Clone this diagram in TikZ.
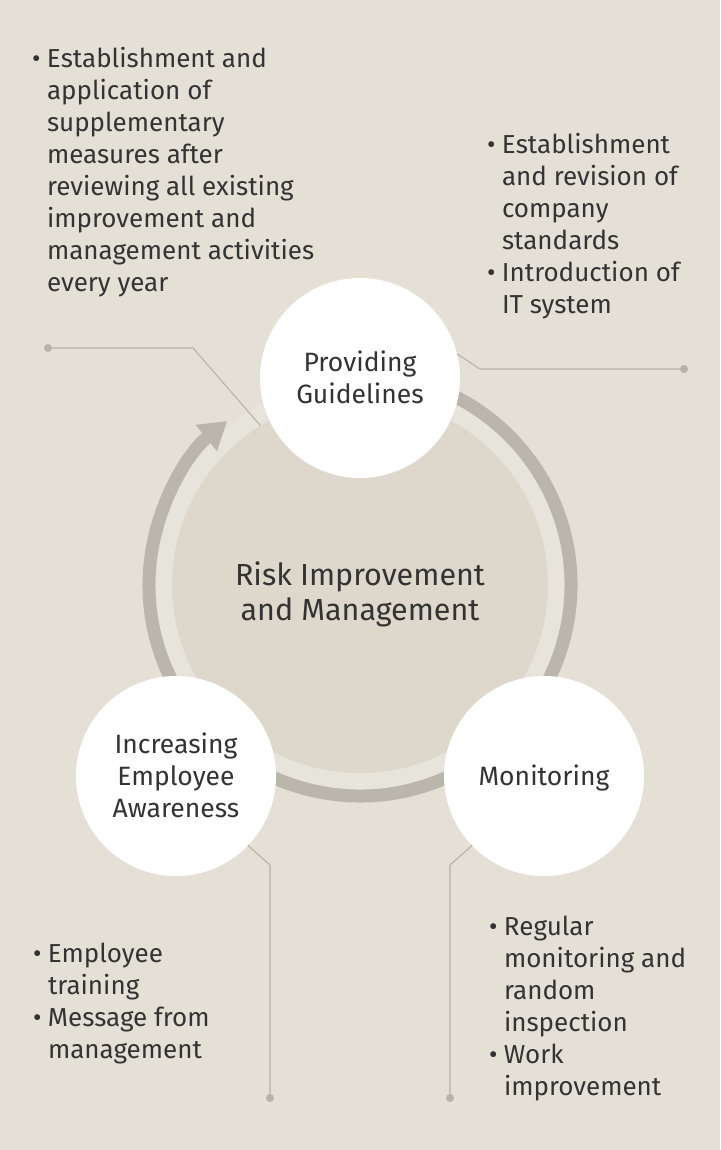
\documentclass[tikz,border=0pt]{standalone}
\usepackage{fontspec}
\setmainfont{Fira Sans}
\usetikzlibrary{arrows.meta}
\definecolor{bgc}{HTML}{E4E0D6}
\definecolor{discc}{HTML}{DDD8CB}
\definecolor{haloc}{HTML}{E7E4DB}
\definecolor{ringc}{HTML}{BBB6AB}
\definecolor{linec}{HTML}{B8B3A8}
\definecolor{txtc}{HTML}{333333}
\newcommand{\topst}{\rule{0pt}{1em}}
\newcommand{\bul}{\makebox[15pt][l]{\textbullet}}
\newcommand{\ind}{\hspace*{15pt}}
\begin{document}
\begin{tikzpicture}[x=1pt,y=-1pt,
  circ/.style={circle,fill=white,minimum size=200pt,inner sep=0pt,outer sep=0pt},
  body/.style={inner sep=0pt,outer sep=0pt,align=left,text=txtc,font=\fontsize{26}{32}\selectfont},
  lbl/.style={inner sep=0pt,outer sep=0pt,align=center,text=txtc,font=\fontsize{26.5}{32}\selectfont},
  bigl/.style={inner sep=0pt,outer sep=0pt,align=center,text=txtc,font=\fontsize{30.5}{35}\selectfont},
  leader/.style={draw=linec,line width=1.1pt},
  ringst/.style={draw=ringc,line width=13pt},
  dotst/.style={fill=linec}]
\useasboundingbox (0,0) rectangle (720,1150);
\fill[bgc] (0,0) rectangle (720,1150);
% halo and disc
\fill[haloc] (360,585) circle (206pt);
\node[circle,fill=discc,minimum size=376pt,inner sep=0pt,outer sep=0pt] (disc) at (360,585) {};
\node[bigl,anchor=north] (center) at (360,585-30.5) {\topst Risk Improvement\\and Management};
% ring with arrow
\draw[ringst,-{Triangle[length=27pt,width=32pt]}] ([shift={(360,585)}]-80:211) arc[start angle=-80,end angle=231,radius=211];
% circles
\node[circ] (pg) at (360,378) {};
\node[circ] (iea) at (176,776) {};
\node[circ] (mon) at (544,776) {};
\node[lbl,anchor=north] (pgt) at (360,371-26.5) {\topst Providing\\Guidelines};
\node[lbl,anchor=north] (ieat) at (176,753-26.5) {\topst Increasing\\Employee\\Awareness};
\node[lbl,anchor=north] (mont) at (544,785-26.5) {\topst Monitoring};
% leader dots
\coordinate (d1) at (48,348);
\coordinate (d2) at (684,369);
\coordinate (d3) at (270,1098);
\coordinate (d4) at (450,1098);
\coordinate (k1) at (193,348);
\coordinate (k2) at (480,369);
\coordinate (k3) at (270,865);
\coordinate (k4) at (450,865);
\draw[leader] (d1) -- (k1) -- (disc.122.5);
\draw[leader] (pg.14.5) -- (k2) -- (d2);
\draw[leader] (iea.-44) -- (k3) -- (d3);
\draw[leader] (mon.224) -- (k4) -- (d4);
\foreach \d in {d1,d2,d3,d4} \fill[dotst] (\d) circle (4pt);
% text blocks
\node[body,anchor=north west] (t1) at (32,67-26) {\topst\bul Establishment and\\\ind application of\\\ind supplementary\\\ind measures after\\\ind reviewing all existing\\\ind improvement and\\\ind management activities\\\ind every year};
\node[body,anchor=north west] (t2) at (487,153-26) {\topst\bul Establishment\\\ind and revision of\\\ind company\\\ind standards\\\bul Introduction of\\\ind IT system};
\node[body,anchor=north west] (t3) at (33,962-26) {\topst\bul Employee\\\ind training\\\bul Message from\\\ind management};
\node[body,anchor=north west] (t4) at (489,935-26) {\topst\bul Regular\\\ind monitoring and\\\ind random\\\ind inspection\\\bul Work\\\ind improvement};
\end{tikzpicture}
\end{document}
